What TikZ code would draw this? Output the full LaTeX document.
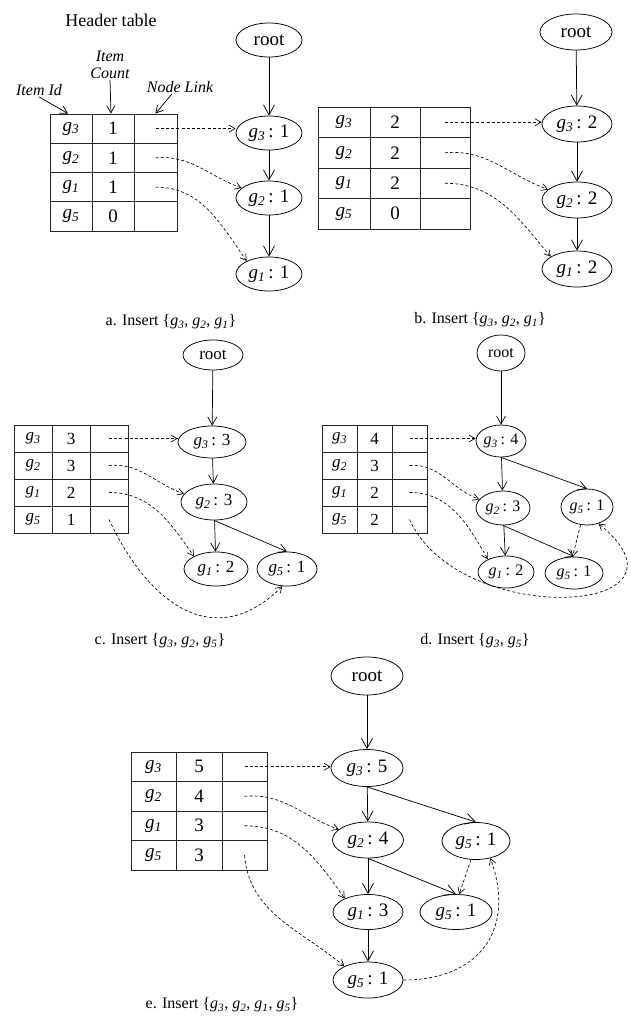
\documentclass[tikz,border=0pt]{standalone}
\usepackage{fontspec}
\setmainfont{Liberation Serif}
\usetikzlibrary{arrows.meta,shapes.geometric}
\newcommand\gsub[1]{\textit{g}\textsubscript{\textit{#1}}}
\newcommand\htab[8]{%
 \foreach \id/\cnt [count=\i] in {#8} {
  \node[hcell, minimum width=#3, minimum height=#7] (#1-id\i) at ({#2+#3/2}, {#6+(\i-0.5)*#7}) {\gsub{\id}};
  \node[hcell, minimum width=#4, minimum height=#7] (#1-c\i) at ({#2+#3+#4/2}, {#6+(\i-0.5)*#7}) {\cnt};
  \node[hcell, minimum width=#5, minimum height=#7] (#1-l\i) at ({#2+#3+#4+#5/2}, {#6+(\i-0.5)*#7}) {};
 }}
\begin{document}
\begin{tikzpicture}[x=1pt,y=-1pt,
 ov/.style={ellipse, draw, line width=0.75pt, inner sep=0pt, font=\fontsize{19}{19}\selectfont},
 hcell/.style={rectangle, draw=black!85, line width=0.85pt, inner sep=0pt, font=\fontsize{19}{19}\selectfont},
 tedge/.style={-{Straight Barb[length=10pt,width=11pt]}, line width=0.75pt},
 sedge/.style={-{Straight Barb[length=8pt,width=9pt]}, line width=0.7pt},
 ledge/.style={-{Straight Barb[length=7pt,width=8pt]}, line width=0.75pt},
 dlink/.style={-{Straight Barb[length=6pt,width=7pt]}, dash pattern=on 3pt off 2.2pt, line width=0.65pt},
 capt/.style={font=\fontsize{16}{16}\selectfont},
 lbl/.style={font=\fontsize{16}{17}\selectfont\itshape, inner sep=1pt, align=center}]
\useasboundingbox[fill=white] (0,0) rectangle (631,1017);

% ---------- panel a ----------
\node[font=\fontsize{18}{18}\selectfont] (hdr) at (111,20) {Header table};
\node[lbl] (lblcnt) at (110,65) {Item\\Count};
\node[lbl] (lblid) at (39,90) {Item Id};
\node[lbl] (lbllink) at (180,87) {Node Link};
\htab{a}{50}{42}{42}{43}{114}{29.25}{3/1,2/1,1/1,5/0}
\draw[ledge] (lblid.south) -- ([xshift=-3pt]a-id1.north);
\draw[ledge] (lblcnt.south) -- ([xshift=-2pt]a-c1.north);
\draw[ledge] ([xshift=-8pt]lbllink.south) -- (a-l1.north);
\node[ov, minimum width=66, minimum height=34] (a-root) at (269,40) {root};
\node[ov, minimum width=66, minimum height=34] (a-g3) at (269,133) {\gsub{3}\,: 1};
\node[ov, minimum width=66, minimum height=34] (a-g2) at (269,198) {\gsub{2}\,: 1};
\node[ov, minimum width=66, minimum height=34] (a-g1) at (269,274) {\gsub{1}\,: 1};
\draw[tedge] (a-root) -- (a-g3);
\draw[tedge] (a-g3) -- (a-g2);
\draw[tedge] (a-g2) -- (a-g1);
\draw[dlink] (a-l1.center) -- (a-l1.center -| a-g3.west);
\draw[dlink] (a-l2.center) to[out=5,in=160] (a-g2.160);
\draw[dlink] (a-l3.center) to[out=0,in=125] (a-g1.150);
\node[capt] (cap-a) at (171,322) {a. Insert \{\gsub{3}, \gsub{2}, \gsub{1}\}};

% ---------- panel b ----------
\htab{b}{318}{52}{50}{50}{107}{30.5}{3/2,2/2,1/2,5/0}
\node[ov, minimum width=72, minimum height=36] (b-root) at (576,32) {root};
\node[ov, minimum width=70, minimum height=36] (b-g3) at (577,124) {\gsub{3}\,: 2};
\node[ov, minimum width=70, minimum height=36] (b-g2) at (577,200) {\gsub{2}\,: 2};
\node[ov, minimum width=70, minimum height=36] (b-g1) at (577,269) {\gsub{1}\,: 2};
\draw[tedge] (b-root) -- (b-g3);
\draw[tedge] (b-g3) -- (b-g2);
\draw[tedge] (b-g2) -- (b-g1);
\draw[dlink] (b-l1.center) -- (b-l1.center -| b-g3.west);
\draw[dlink] (b-l2.center) to[out=5,in=160] (b-g2.160);
\draw[dlink] (b-l3.center) to[out=0,in=130] (b-g1.155);
\node[capt] (cap-b) at (480,320) {b. Insert \{\gsub{3}, \gsub{2}, \gsub{1}\}};

% ---------- panel c ----------
\begin{scope}[hcell/.append style={font=\fontsize{17}{17}\selectfont}, ov/.append style={font=\fontsize{17}{17}\selectfont}]
\htab{c}{14}{38}{38}{38}{425}{27}{3/3,2/3,1/2,5/1}
\node[ov, minimum width=60, minimum height=30] (c-root) at (213,355) {root};
\node[ov, minimum width=68, minimum height=32] (c-g3) at (212,442) {\gsub{3}\,: 3};
\node[ov, minimum width=66, minimum height=36] (c-g2) at (214,502) {\gsub{2}\,: 3};
\node[ov, minimum width=64, minimum height=34] (c-g1) at (216,569) {\gsub{1}\,: 2};
\node[ov, minimum width=60, minimum height=34] (c-g5) at (287,569) {\gsub{5}\,: 1};
\end{scope}
\draw[sedge] (c-root) -- (c-g3);
\draw[sedge] (c-g3) -- (c-g2);
\draw[sedge] (c-g2) -- (c-g1);
\draw[sedge] (c-g2.south) -- (c-g5.north);
\draw[dlink] (c-l1.center) -- (c-l1.center -| c-g3.west);
\draw[dlink] (c-l2.center) to[out=5,in=160] (c-g2.165);
\draw[dlink] (c-l3.center) to[out=0,in=125] (c-g1.150);
\draw[dlink] (c-l4.center) to[out=-65,in=225,looseness=1.3] (c-g5.255);
\node[capt] (cap-c) at (160,641) {c. Insert \{\gsub{3}, \gsub{2}, \gsub{5}\}};

% ---------- panel d ----------
\begin{scope}[hcell/.append style={font=\fontsize{17}{17}\selectfont}, ov/.append style={font=\fontsize{16}{16}\selectfont}]
\htab{d}{322}{35}{35}{35}{425}{27}{3/4,2/3,1/2,5/2}
\node[ov, minimum width=48, minimum height=36] (d-root) at (501,353) {root};
\node[ov, minimum width=50, minimum height=32] (d-g3) at (501,441) {\gsub{3}\,: 4};
\node[ov, minimum width=54, minimum height=34] (d-g2) at (503,508) {\gsub{2}\,: 3};
\node[ov, minimum width=52, minimum height=36] (d-g5a) at (587,507) {\gsub{5}\,: 1};
\node[ov, minimum width=56, minimum height=32] (d-g1) at (506,572) {\gsub{1}\,: 2};
\node[ov, minimum width=58, minimum height=32] (d-g5b) at (574,573) {\gsub{5}\,: 1};
\end{scope}
\draw[sedge] (d-root) -- (d-g3);
\draw[sedge] (d-g3) -- (d-g2);
\draw[sedge] (d-g2) -- (d-g1);
\draw[sedge] (d-g3.south) -- (d-g5a.north);
\draw[sedge] (d-g2.south) -- (d-g5b.north);
\draw[dlink] (d-l1.center) -- (d-l1.center -| d-g3.west);
\draw[dlink] (d-l2.center) to[out=5,in=160] (d-g2.160);
\draw[dlink] (d-l3.center) to[out=0,in=120] (d-g1.145);
\draw[dlink] (d-l4.center) .. controls (460,630) and (710,615) .. (d-g5a.-55);
\draw[dlink] (d-g5a.250) -- (d-g5b.95);
\node[capt] (cap-d) at (475,641) {d. Insert \{\gsub{3}, \gsub{5}\}};

% ---------- panel e ----------
\htab{e}{131}{45}{46}{45}{752}{29.5}{3/5,2/4,1/3,5/3}
\node[ov, minimum width=72, minimum height=38] (e-root) at (367,676) {root};
\node[ov, minimum width=72, minimum height=37] (e-g3) at (367,768) {\gsub{3}\,: 5};
\node[ov, minimum width=71, minimum height=36] (e-g2) at (368,840) {\gsub{2}\,: 4};
\node[ov, minimum width=68, minimum height=37] (e-g5a) at (476,841) {\gsub{5}\,: 1};
\node[ov, minimum width=70, minimum height=35] (e-g1) at (368,912) {\gsub{1}\,: 3};
\node[ov, minimum width=72, minimum height=35] (e-g5b) at (456,912) {\gsub{5}\,: 1};
\node[ov, minimum width=70, minimum height=36] (e-g5c) at (368,980) {\gsub{5}\,: 1};
\draw[tedge] (e-root) -- (e-g3);
\draw[tedge] (e-g3) -- (e-g2);
\draw[tedge] (e-g2) -- (e-g1);
\draw[tedge] (e-g1) -- (e-g5c);
\draw[tedge] (e-g3.south) -- (e-g5a.north);
\draw[tedge] (e-g2.south) -- (e-g5b.north);
\draw[dlink] (e-l1.center) -- (e-l1.center -| e-g3.west);
\draw[dlink] (e-l2.center) to[out=5,in=160] (e-g2.160);
\draw[dlink] (e-l3.center) to[out=0,in=125] (e-g1.150);
\draw[dlink] (e-l4.center) to[out=-85,in=140] (e-g5c.150);
\draw[dlink] (e-g5c.east) to[out=0,in=-70,looseness=1.3] (e-g5a.-50);
\draw[dlink] (e-g5a.255) -- (e-g5b.80);
\node[capt] (cap-e) at (222,1005) {e. Insert \{\gsub{3}, \gsub{2}, \gsub{1}, \gsub{5}\}};
\end{tikzpicture}
\end{document}
